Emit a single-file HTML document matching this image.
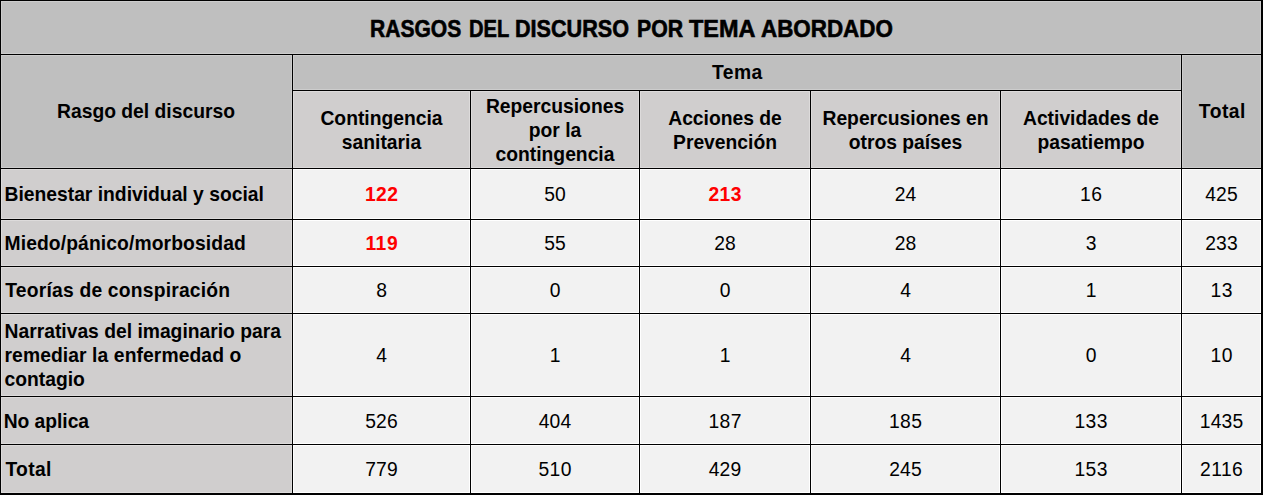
<!DOCTYPE html>
<html><head><meta charset="utf-8"><title>Rasgos del discurso por tema abordado</title>
<style>
html,body{margin:0;padding:0;background:#fff;}
body{width:1263px;height:495px;position:relative;overflow:hidden;font-family:"Liberation Sans",sans-serif;color:#000;}
.c{position:absolute;box-sizing:border-box;}
.l{position:absolute;background:#000;}
.t{position:absolute;white-space:nowrap;font-size:19.3px;line-height:24px;}
.b{font-weight:bold;}
.m{text-align:center;}
.r{color:#f00;font-weight:bold;}
.tw{position:absolute;font-weight:bold;white-space:nowrap;transform-origin:0 0;font-size:23.6px;line-height:30px;-webkit-text-stroke:0.6px #000;}
</style></head><body>

<div class="c" style="left:0;top:0;width:1263px;height:495px;background:#000"></div>
<div class="c" style="left:1px;top:1px;width:1260px;height:53px;background:#bfbfbf;box-shadow:inset 0 0 0 1px #cdcdcd"></div>
<div class="c" style="left:1px;top:55px;width:291px;height:113px;background:#bfbfbf;box-shadow:inset 0 0 0 1px #cdcdcd"></div>
<div class="c" style="left:293px;top:55px;width:888px;height:35px;background:#bfbfbf;box-shadow:inset 0 0 0 1px #cdcdcd"></div>
<div class="c" style="left:1182px;top:55px;width:79px;height:113px;background:#bfbfbf;box-shadow:inset 0 0 0 1px #cdcdcd"></div>
<div class="c" style="left:293px;top:91px;width:177px;height:77px;background:#d0cece;box-shadow:inset 0 0 0 1px #dddbdb"></div>
<div class="c" style="left:471px;top:91px;width:168px;height:77px;background:#d0cece;box-shadow:inset 0 0 0 1px #dddbdb"></div>
<div class="c" style="left:640px;top:91px;width:170px;height:77px;background:#d0cece;box-shadow:inset 0 0 0 1px #dddbdb"></div>
<div class="c" style="left:811px;top:91px;width:189px;height:77px;background:#d0cece;box-shadow:inset 0 0 0 1px #dddbdb"></div>
<div class="c" style="left:1001px;top:91px;width:180px;height:77px;background:#d0cece;box-shadow:inset 0 0 0 1px #dddbdb"></div>
<div class="c" style="left:1px;top:169px;width:291px;height:50px;background:#d0cece;box-shadow:inset 0 0 0 1px #dddbdb"></div>
<div class="c" style="left:293px;top:169px;width:177px;height:50px;background:#f2f2f2;box-shadow:inset 0 0 0 1px #ffffff"></div>
<div class="c" style="left:471px;top:169px;width:168px;height:50px;background:#f2f2f2;box-shadow:inset 0 0 0 1px #ffffff"></div>
<div class="c" style="left:640px;top:169px;width:170px;height:50px;background:#f2f2f2;box-shadow:inset 0 0 0 1px #ffffff"></div>
<div class="c" style="left:811px;top:169px;width:189px;height:50px;background:#f2f2f2;box-shadow:inset 0 0 0 1px #ffffff"></div>
<div class="c" style="left:1001px;top:169px;width:180px;height:50px;background:#f2f2f2;box-shadow:inset 0 0 0 1px #ffffff"></div>
<div class="c" style="left:1182px;top:169px;width:79px;height:50px;background:#f2f2f2;box-shadow:inset 0 0 0 1px #ffffff"></div>
<div class="c" style="left:1px;top:220px;width:291px;height:46px;background:#d0cece;box-shadow:inset 0 0 0 1px #dddbdb"></div>
<div class="c" style="left:293px;top:220px;width:177px;height:46px;background:#f2f2f2;box-shadow:inset 0 0 0 1px #ffffff"></div>
<div class="c" style="left:471px;top:220px;width:168px;height:46px;background:#f2f2f2;box-shadow:inset 0 0 0 1px #ffffff"></div>
<div class="c" style="left:640px;top:220px;width:170px;height:46px;background:#f2f2f2;box-shadow:inset 0 0 0 1px #ffffff"></div>
<div class="c" style="left:811px;top:220px;width:189px;height:46px;background:#f2f2f2;box-shadow:inset 0 0 0 1px #ffffff"></div>
<div class="c" style="left:1001px;top:220px;width:180px;height:46px;background:#f2f2f2;box-shadow:inset 0 0 0 1px #ffffff"></div>
<div class="c" style="left:1182px;top:220px;width:79px;height:46px;background:#f2f2f2;box-shadow:inset 0 0 0 1px #ffffff"></div>
<div class="c" style="left:1px;top:267px;width:291px;height:46px;background:#d0cece;box-shadow:inset 0 0 0 1px #dddbdb"></div>
<div class="c" style="left:293px;top:267px;width:177px;height:46px;background:#f2f2f2;box-shadow:inset 0 0 0 1px #ffffff"></div>
<div class="c" style="left:471px;top:267px;width:168px;height:46px;background:#f2f2f2;box-shadow:inset 0 0 0 1px #ffffff"></div>
<div class="c" style="left:640px;top:267px;width:170px;height:46px;background:#f2f2f2;box-shadow:inset 0 0 0 1px #ffffff"></div>
<div class="c" style="left:811px;top:267px;width:189px;height:46px;background:#f2f2f2;box-shadow:inset 0 0 0 1px #ffffff"></div>
<div class="c" style="left:1001px;top:267px;width:180px;height:46px;background:#f2f2f2;box-shadow:inset 0 0 0 1px #ffffff"></div>
<div class="c" style="left:1182px;top:267px;width:79px;height:46px;background:#f2f2f2;box-shadow:inset 0 0 0 1px #ffffff"></div>
<div class="c" style="left:1px;top:314px;width:291px;height:82px;background:#d0cece;box-shadow:inset 0 0 0 1px #dddbdb"></div>
<div class="c" style="left:293px;top:314px;width:177px;height:82px;background:#f2f2f2;box-shadow:inset 0 0 0 1px #ffffff"></div>
<div class="c" style="left:471px;top:314px;width:168px;height:82px;background:#f2f2f2;box-shadow:inset 0 0 0 1px #ffffff"></div>
<div class="c" style="left:640px;top:314px;width:170px;height:82px;background:#f2f2f2;box-shadow:inset 0 0 0 1px #ffffff"></div>
<div class="c" style="left:811px;top:314px;width:189px;height:82px;background:#f2f2f2;box-shadow:inset 0 0 0 1px #ffffff"></div>
<div class="c" style="left:1001px;top:314px;width:180px;height:82px;background:#f2f2f2;box-shadow:inset 0 0 0 1px #ffffff"></div>
<div class="c" style="left:1182px;top:314px;width:79px;height:82px;background:#f2f2f2;box-shadow:inset 0 0 0 1px #ffffff"></div>
<div class="c" style="left:1px;top:397px;width:291px;height:47px;background:#d0cece;box-shadow:inset 0 0 0 1px #dddbdb"></div>
<div class="c" style="left:293px;top:397px;width:177px;height:47px;background:#f2f2f2;box-shadow:inset 0 0 0 1px #ffffff"></div>
<div class="c" style="left:471px;top:397px;width:168px;height:47px;background:#f2f2f2;box-shadow:inset 0 0 0 1px #ffffff"></div>
<div class="c" style="left:640px;top:397px;width:170px;height:47px;background:#f2f2f2;box-shadow:inset 0 0 0 1px #ffffff"></div>
<div class="c" style="left:811px;top:397px;width:189px;height:47px;background:#f2f2f2;box-shadow:inset 0 0 0 1px #ffffff"></div>
<div class="c" style="left:1001px;top:397px;width:180px;height:47px;background:#f2f2f2;box-shadow:inset 0 0 0 1px #ffffff"></div>
<div class="c" style="left:1182px;top:397px;width:79px;height:47px;background:#f2f2f2;box-shadow:inset 0 0 0 1px #ffffff"></div>
<div class="c" style="left:1px;top:445px;width:291px;height:48px;background:#d0cece;box-shadow:inset 0 0 0 1px #dddbdb"></div>
<div class="c" style="left:293px;top:445px;width:177px;height:48px;background:#f2f2f2;box-shadow:inset 0 0 0 1px #ffffff"></div>
<div class="c" style="left:471px;top:445px;width:168px;height:48px;background:#f2f2f2;box-shadow:inset 0 0 0 1px #ffffff"></div>
<div class="c" style="left:640px;top:445px;width:170px;height:48px;background:#f2f2f2;box-shadow:inset 0 0 0 1px #ffffff"></div>
<div class="c" style="left:811px;top:445px;width:189px;height:48px;background:#f2f2f2;box-shadow:inset 0 0 0 1px #ffffff"></div>
<div class="c" style="left:1001px;top:445px;width:180px;height:48px;background:#f2f2f2;box-shadow:inset 0 0 0 1px #ffffff"></div>
<div class="c" style="left:1182px;top:445px;width:79px;height:48px;background:#f2f2f2;box-shadow:inset 0 0 0 1px #ffffff"></div>
<div class="tw" style="left:370.254px;top:13.8px;transform:scaleX(0.892)">RASGOS</div>
<div class="tw" style="left:468.874px;top:13.8px;transform:scaleX(0.853)">DEL</div>
<div class="tw" style="left:515.342px;top:13.8px;transform:scaleX(0.915)">DISCURSO</div>
<div class="tw" style="left:637.35px;top:13.8px;transform:scaleX(0.9)">POR</div>
<div class="tw" style="left:688.903px;top:13.8px;transform:scaleX(0.994)">TEMA</div>
<div class="tw" style="left:761.425px;top:13.8px;transform:scaleX(0.949)">ABORDADO</div>
<div class="t b" style="left:0px;top:55px;width:292px;height:113px;display:flex;align-items:center;justify-content:center;text-align:center;"><span>Rasgo del discurso</span></div>
<div class="t b" style="left:292.86px;top:55px;width:889px;height:35px;display:flex;align-items:center;justify-content:center;text-align:center;letter-spacing:0.43px;"><span>Tema</span></div>
<div class="t b" style="left:1182.3px;top:55px;width:80px;height:113px;display:flex;align-items:center;justify-content:center;text-align:center;letter-spacing:0.45px;"><span>Total</span></div>
<div class="t b" style="left:293px;top:92px;width:177px;height:77px;display:flex;align-items:center;justify-content:center;text-align:center;"><span>Contingencia<br>sanitaria</span></div>
<div class="t b" style="left:471px;top:92px;width:168px;height:77px;display:flex;align-items:center;justify-content:center;text-align:center;"><span>Repercusiones<br>por la<br>contingencia</span></div>
<div class="t b" style="left:640px;top:92px;width:170px;height:77px;display:flex;align-items:center;justify-content:center;text-align:center;"><span>Acciones de<br>Prevenci&oacute;n</span></div>
<div class="t b" style="left:811px;top:92px;width:189px;height:77px;display:flex;align-items:center;justify-content:center;text-align:center;"><span>Repercusiones en<br>otros pa&iacute;ses</span></div>
<div class="t b" style="left:1001px;top:92px;width:180px;height:77px;display:flex;align-items:center;justify-content:center;text-align:center;"><span>Actividades de<br>pasatiempo</span></div>
<div class="t b" style="left:0px;top:170px;width:292px;height:50px;display:flex;align-items:center;justify-content:flex-start;text-align:left;padding-left:4.5px;"><span>Bienestar individual y social</span></div>
<div class="t r" style="left:293.166px;top:170px;width:177px;height:50px;display:flex;align-items:center;justify-content:center;text-align:center;letter-spacing:0.333px;"><span>122</span></div>
<div class="t " style="left:471.075px;top:170px;width:168px;height:50px;display:flex;align-items:center;justify-content:center;text-align:center;letter-spacing:0.15px;"><span>50</span></div>
<div class="t r" style="left:640.167px;top:170px;width:170px;height:50px;display:flex;align-items:center;justify-content:center;text-align:center;letter-spacing:0.333px;"><span>213</span></div>
<div class="t " style="left:811.075px;top:170px;width:189px;height:50px;display:flex;align-items:center;justify-content:center;text-align:center;letter-spacing:0.15px;"><span>24</span></div>
<div class="t " style="left:1001.25px;top:170px;width:180px;height:50px;display:flex;align-items:center;justify-content:center;text-align:center;letter-spacing:0.5px;"><span>16</span></div>
<div class="t " style="left:1182.05px;top:170px;width:79px;height:50px;display:flex;align-items:center;justify-content:center;text-align:center;letter-spacing:0.1px;"><span>425</span></div>
<div class="t b" style="left:0px;top:221px;width:292px;height:46px;display:flex;align-items:center;justify-content:flex-start;text-align:left;padding-left:4.5px;letter-spacing:0.11px;"><span>Miedo/p&aacute;nico/morbosidad</span></div>
<div class="t r" style="left:293.284px;top:221px;width:177px;height:46px;display:flex;align-items:center;justify-content:center;text-align:center;letter-spacing:0.567px;"><span>119</span></div>
<div class="t " style="left:471.075px;top:221px;width:168px;height:46px;display:flex;align-items:center;justify-content:center;text-align:center;letter-spacing:0.15px;"><span>55</span></div>
<div class="t " style="left:640.075px;top:221px;width:170px;height:46px;display:flex;align-items:center;justify-content:center;text-align:center;letter-spacing:0.15px;"><span>28</span></div>
<div class="t " style="left:811.075px;top:221px;width:189px;height:46px;display:flex;align-items:center;justify-content:center;text-align:center;letter-spacing:0.15px;"><span>28</span></div>
<div class="t " style="left:1001px;top:221px;width:180px;height:46px;display:flex;align-items:center;justify-content:center;text-align:center;"><span>3</span></div>
<div class="t " style="left:1182.05px;top:221px;width:79px;height:46px;display:flex;align-items:center;justify-content:center;text-align:center;letter-spacing:0.1px;"><span>233</span></div>
<div class="t b" style="left:0.8px;top:268px;width:292px;height:46px;display:flex;align-items:center;justify-content:flex-start;text-align:left;padding-left:4.5px;letter-spacing:0.2px;"><span>Teor&iacute;as de conspiraci&oacute;n</span></div>
<div class="t " style="left:293px;top:268px;width:177px;height:46px;display:flex;align-items:center;justify-content:center;text-align:center;"><span>8</span></div>
<div class="t " style="left:471px;top:268px;width:168px;height:46px;display:flex;align-items:center;justify-content:center;text-align:center;"><span>0</span></div>
<div class="t " style="left:640px;top:268px;width:170px;height:46px;display:flex;align-items:center;justify-content:center;text-align:center;"><span>0</span></div>
<div class="t " style="left:811px;top:268px;width:189px;height:46px;display:flex;align-items:center;justify-content:center;text-align:center;"><span>4</span></div>
<div class="t " style="left:1001px;top:268px;width:180px;height:46px;display:flex;align-items:center;justify-content:center;text-align:center;"><span>1</span></div>
<div class="t " style="left:1182.25px;top:268px;width:79px;height:46px;display:flex;align-items:center;justify-content:center;text-align:center;letter-spacing:0.5px;"><span>13</span></div>
<div class="t b" style="left:0px;top:315px;width:292px;height:82px;display:flex;align-items:center;justify-content:flex-start;text-align:left;padding-left:4.5px;"><span>Narrativas del imaginario para<br><span style="letter-spacing:0.09px">remediar la enfermedad o</span><br>contagio</span></div>
<div class="t " style="left:293px;top:315px;width:177px;height:82px;display:flex;align-items:center;justify-content:center;text-align:center;"><span>4</span></div>
<div class="t " style="left:471px;top:315px;width:168px;height:82px;display:flex;align-items:center;justify-content:center;text-align:center;"><span>1</span></div>
<div class="t " style="left:640px;top:315px;width:170px;height:82px;display:flex;align-items:center;justify-content:center;text-align:center;"><span>1</span></div>
<div class="t " style="left:811px;top:315px;width:189px;height:82px;display:flex;align-items:center;justify-content:center;text-align:center;"><span>4</span></div>
<div class="t " style="left:1001px;top:315px;width:180px;height:82px;display:flex;align-items:center;justify-content:center;text-align:center;"><span>0</span></div>
<div class="t " style="left:1182.25px;top:315px;width:79px;height:82px;display:flex;align-items:center;justify-content:center;text-align:center;letter-spacing:0.5px;"><span>10</span></div>
<div class="t b" style="left:-0.8px;top:398px;width:292px;height:47px;display:flex;align-items:center;justify-content:flex-start;text-align:left;padding-left:4.5px;letter-spacing:-0.05px;"><span>No aplica</span></div>
<div class="t " style="left:293.05px;top:398px;width:177px;height:47px;display:flex;align-items:center;justify-content:center;text-align:center;letter-spacing:0.1px;"><span>526</span></div>
<div class="t " style="left:471.05px;top:398px;width:168px;height:47px;display:flex;align-items:center;justify-content:center;text-align:center;letter-spacing:0.1px;"><span>404</span></div>
<div class="t " style="left:640.167px;top:398px;width:170px;height:47px;display:flex;align-items:center;justify-content:center;text-align:center;letter-spacing:0.333px;"><span>187</span></div>
<div class="t " style="left:811.167px;top:398px;width:189px;height:47px;display:flex;align-items:center;justify-content:center;text-align:center;letter-spacing:0.333px;"><span>185</span></div>
<div class="t " style="left:1001.17px;top:398px;width:180px;height:47px;display:flex;align-items:center;justify-content:center;text-align:center;letter-spacing:0.333px;"><span>133</span></div>
<div class="t " style="left:1182.12px;top:398px;width:79px;height:47px;display:flex;align-items:center;justify-content:center;text-align:center;letter-spacing:0.25px;"><span>1435</span></div>
<div class="t b" style="left:0.9px;top:446px;width:292px;height:48px;display:flex;align-items:center;justify-content:flex-start;text-align:left;padding-left:4.5px;letter-spacing:0.35px;"><span>Total</span></div>
<div class="t " style="left:293.05px;top:446px;width:177px;height:48px;display:flex;align-items:center;justify-content:center;text-align:center;letter-spacing:0.1px;"><span>779</span></div>
<div class="t " style="left:471.166px;top:446px;width:168px;height:48px;display:flex;align-items:center;justify-content:center;text-align:center;letter-spacing:0.333px;"><span>510</span></div>
<div class="t " style="left:640.05px;top:446px;width:170px;height:48px;display:flex;align-items:center;justify-content:center;text-align:center;letter-spacing:0.1px;"><span>429</span></div>
<div class="t " style="left:811.05px;top:446px;width:189px;height:48px;display:flex;align-items:center;justify-content:center;text-align:center;letter-spacing:0.1px;"><span>245</span></div>
<div class="t " style="left:1001.17px;top:446px;width:180px;height:48px;display:flex;align-items:center;justify-content:center;text-align:center;letter-spacing:0.333px;"><span>153</span></div>
<div class="t " style="left:1182.21px;top:446px;width:79px;height:48px;display:flex;align-items:center;justify-content:center;text-align:center;letter-spacing:0.425px;"><span>2116</span></div>
</body></html>
